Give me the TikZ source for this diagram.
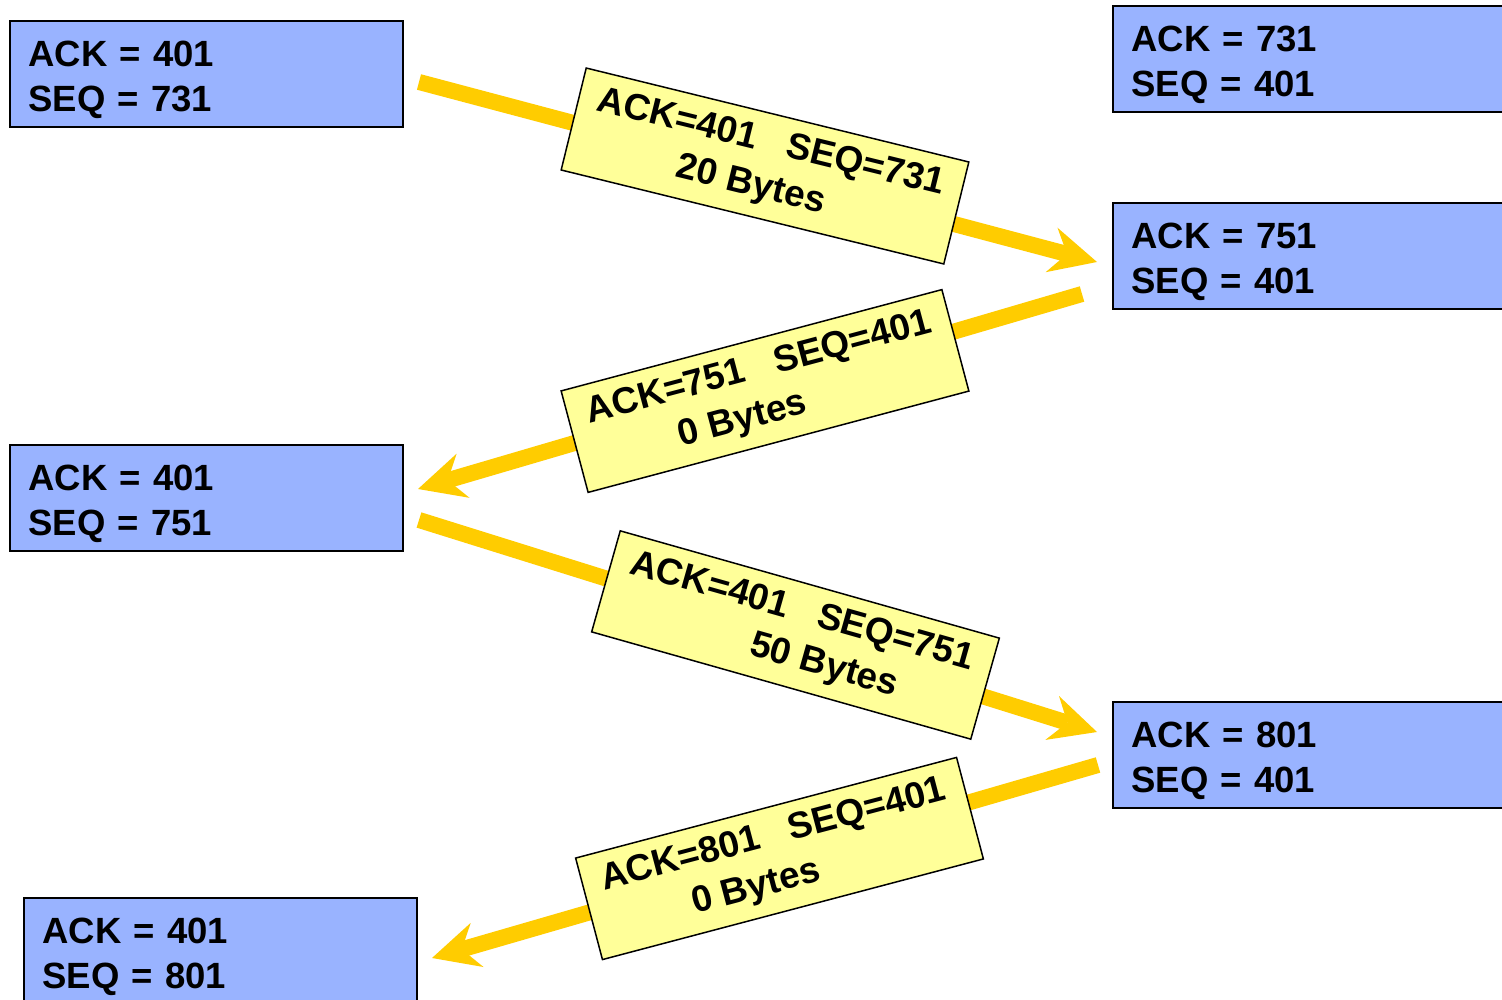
\documentclass[tikz,border=0pt]{standalone}
\usepackage{fontspec}
\setmainfont{Liberation Sans}
\usetikzlibrary{arrows.meta}
\definecolor{boxblue}{RGB}{153,179,255}
\definecolor{boxyellow}{RGB}{255,255,153}
\definecolor{arrowgold}{RGB}{255,204,0}
\begin{document}
\begin{tikzpicture}[x=1pt,y=-1pt,
  state/.style={draw=black, line width=2pt, fill=boxblue, rectangle,
    minimum height=106pt, inner xsep=18.5pt, inner ysep=0pt, align=left,
    text height=37pt,
    font=\fontsize{36.5}{45}\selectfont\bfseries, anchor=north west},
  msg/.style={draw=black, line width=1.5pt, fill=boxyellow, rectangle,
    minimum width=394pt, minimum height=105pt, inner sep=0pt, align=center,
    font=\fontsize{37}{46}\selectfont\bfseries},
  flow/.style={draw=arrowgold, line width=16pt,
    -{Stealth[length=47pt,width=46pt,inset=16pt,line width=0pt]}}
]
\clip (0,0) rectangle (1502,1000);
\fill[white] (0,0) rectangle (1502,1000);

% arrows (behind the message boxes)
\coordinate (a1s) at (419,82);
\coordinate (a1e) at (1097,262);
\coordinate (a2s) at (1082,294);
\coordinate (a2e) at (418,489);
\coordinate (a3s) at (419,520);
\coordinate (a3e) at (1097,732);
\coordinate (a4s) at (1098,765);
\coordinate (a4e) at (432,958);
\draw[flow] (a1s) -- (a1e);
\draw[flow] (a2s) -- (a2e);
\draw[flow] (a3s) -- (a3e);
\draw[flow] (a4s) -- (a4e);

% state boxes
\node[state, text width=356pt] (l1) at (9,20) {ACK = 401\\SEQ = 731};
\node[state, text width=383pt] (r1) at (1112,5) {ACK = 731\\SEQ = 401};
\node[state, text width=383pt] (r2) at (1112,202) {ACK = 751\\SEQ = 401};
\node[state, text width=356pt] (l2) at (9,444) {ACK = 401\\SEQ = 751};
\node[state, text width=383pt] (r3) at (1112,701) {ACK = 801\\SEQ = 401};
\node[state, text width=356pt] (l3) at (23,897) {ACK = 401\\SEQ = 801};

% message boxes
\node[msg, rotate=-13.8] (m1) at (765,166) {ACK=401\hspace{0.83em}SEQ=731\\20 Bytes\hspace*{18pt}};
\node[msg, rotate=14.9] (m2) at (765,391) {ACK=751\hspace{0.83em}SEQ=401\\0 Bytes\hspace*{58pt}};
\node[msg, rotate=-15.8] (m3) at (795.5,635) {ACK=401\hspace{0.83em}SEQ=751\\\hspace*{72pt}50 Bytes};
\node[msg, rotate=14.8] (m4) at (779.5,858.5) {ACK=801\hspace{0.83em}SEQ=401\\0 Bytes\hspace*{60pt}};
\end{tikzpicture}
\end{document}
